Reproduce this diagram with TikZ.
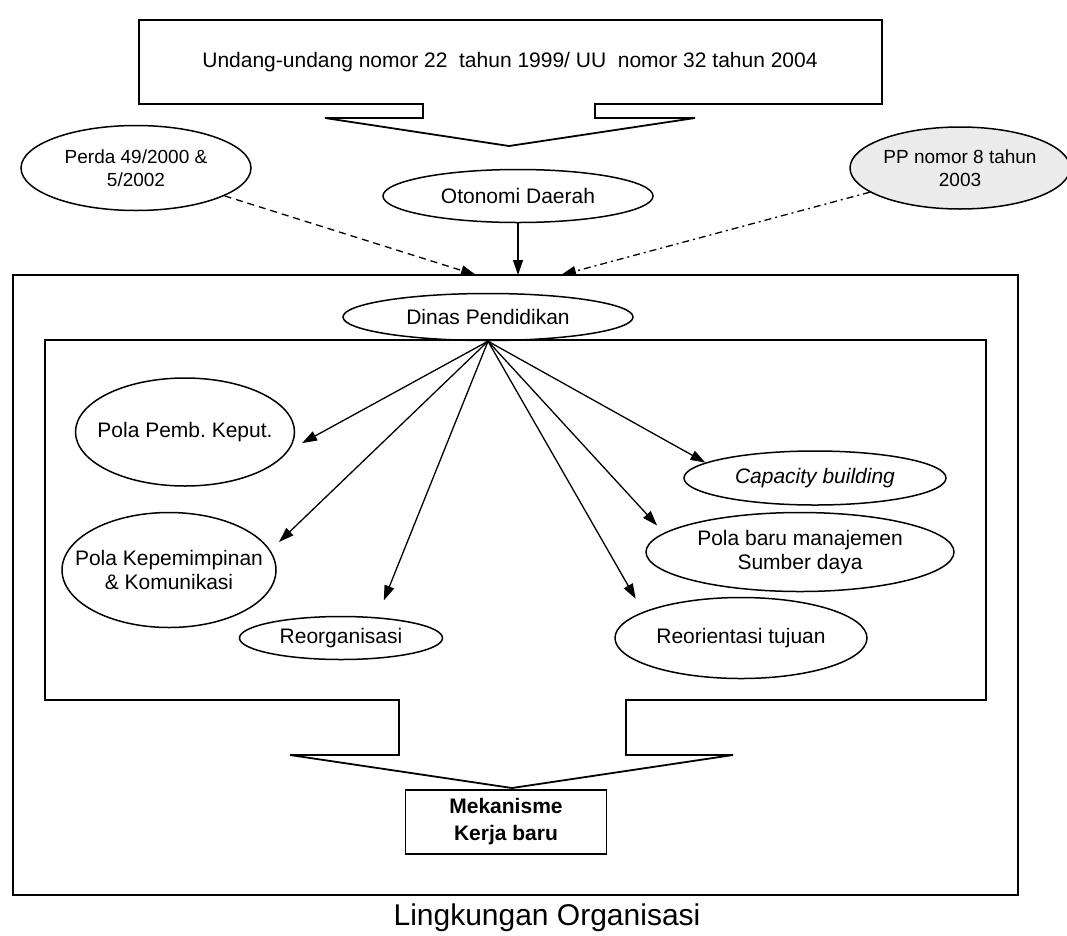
\documentclass[tikz,border=0pt]{standalone}
\usepackage{fontspec}
\setmainfont{Liberation Sans}
\usetikzlibrary{positioning,arrows.meta,shapes.geometric}

\begin{document}
\begin{tikzpicture}[
            x=1pt, y=-1pt,
            font=\fontsize{21}{24}\selectfont,
            >={Triangle[length=15pt,width=10pt]},
            ovalnode/.style={ellipse, draw=black, line width=1.5pt, inner sep=0pt, align=center},
            squarednode/.style={rectangle, draw=black, line width=1.8pt, align=center, font=\fontsize{21}{27}\selectfont\bfseries},
            frameline/.style={draw=black, line width=1.8pt, line join=miter},
            flowline/.style={line width=1.3pt},
        ]
        \useasboundingbox (0,0) rectangle (1067,935);
        \draw[frameline] (13,275) rectangle (1018,895);
        \draw[frameline] (139,20) -- (882,20) -- (882,104) -- (595,104) -- (595,118) -- (695,118) -- (509,146) -- (325,118) -- (423,118) -- (423,104) -- (139,104) -- cycle;
        \draw[frameline] (45,340) -- (986,340) -- (986,700) -- (626,700) -- (626,755) -- (733,755) -- (512,788) -- (290,755) -- (399,755) -- (399,700) -- (45,700) -- cycle;
        \node               (uu)          at (510,62)                                              {Undang-undang nomor 22~ tahun 1999/ UU~ nomor 32 tahun 2004};
        \node[ovalnode]     (perda)       at (136,168) [minimum width=230, minimum height=85, font=\fontsize{19}{23}\selectfont] {Perda 49/2000 \&\\5/2002};
        \node[ovalnode]     (pp)          at (960,168) [minimum width=220, minimum height=82, fill=black!8, font=\fontsize{19}{23}\selectfont] {PP nomor 8 tahun\\2003};
        \node[ovalnode]     (otonomi)     at (518,196) [minimum width=270, minimum height=53]      {Otonomi Daerah};
        \coordinate         (perdain)     at (476,275);
        \coordinate         (otonomiin)   at (518,275);
        \coordinate         (ppin)        at (561,275);
        \node[ovalnode]     (dinas)       at (488,317) [minimum width=290, minimum height=47]      {Dinas Pendidikan};
        \node[ovalnode]     (pemb)        at (185,432) [minimum width=219, minimum height=108, inner xsep=-25pt] {Pola Pemb.\ Keput.};
        \node[ovalnode]     (kepem)       at (169,570) [minimum width=214, minimum height=115, inner xsep=-25pt] {Pola Kepemimpinan\\\& Komunikasi};
        \node[ovalnode]     (reorg)       at (341,638) [minimum width=203, minimum height=43]      {Reorganisasi};
        \node[ovalnode]     (capacity)    at (815,478) [minimum width=262, minimum height=54]      {\itshape Capacity building};
        \node[ovalnode]     (sumberdaya)  at (800,552) [minimum width=308, minimum height=79]      {Pola baru manajemen\\Sumber daya};
        \node[ovalnode]     (reorientasi) at (741,638) [minimum width=252, minimum height=81]      {Reorientasi tujuan};
        \node[squarednode]  (mekanisme)   at (506,822) [minimum width=201, minimum height=64]      {Mekanisme\\Kerja baru};
        \node               (lingkungan)  at (547,918) [font=\fontsize{30}{34}\selectfont]         {Lingkungan Organisasi};
        \draw[flowline, ->] (otonomi.south) -- (otonomiin);
        \draw[flowline, ->, dash pattern=on 7pt off 5pt] (perda) -- (perdain);
        \draw[flowline, ->, dash pattern=on 7pt off 4pt on 2pt off 4pt] (pp) -- (ppin);
        \draw[flowline, ->, shorten >=15pt] (dinas.south) -- (pemb.-10);
        \draw[flowline, ->, shorten >=12pt] (dinas.south) -- (kepem.11);
        \draw[flowline, ->, shorten >=18pt] (dinas.south) -- (reorg.30);
        \draw[flowline, ->] (dinas.south) -- (capacity.172);
        \draw[flowline, ->, shorten >=10pt] (dinas.south) -- (sumberdaya.172);
        \draw[flowline, ->, shorten >=15pt] (dinas.south) -- (reorientasi.165);
    \end{tikzpicture}
\end{document}
